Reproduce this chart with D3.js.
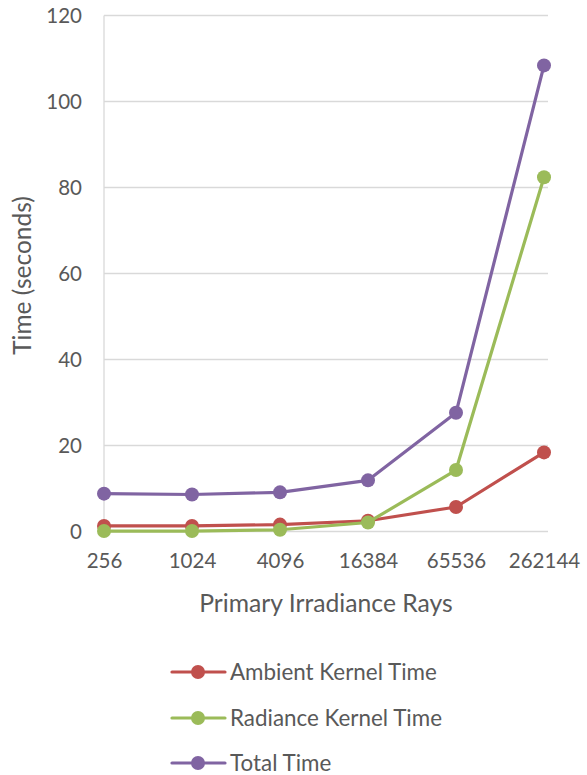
<!DOCTYPE html>
<html>
<head>
<meta charset="utf-8">
<script src="https://cdn.jsdelivr.net/npm/d3@7"></script>
<style>
  html, body { margin: 0; padding: 0; background: #fff; }
  svg { display: block; font-family: Lato, "Open Sans", sans-serif; }
</style>
</head>
<body>
<svg id="chart" width="587" height="775"></svg>
<script>
// Rays per frame (categories) and timings in seconds
const rays = ["256", "1024", "4096", "16384", "65536", "262144"];
const ambientKernel = [1.3, 1.3, 1.6, 2.5, 5.7, 18.4];
const radianceKernel = [0.1, 0.1, 0.4, 2.1, 14.3, 82.4];
const totalTime = [8.8, 8.6, 9.1, 11.9, 27.6, 108.4];
const yTicks = [0, 20, 40, 60, 80, 100, 120];

const series = [
  { name: "Ambient Kernel Time", values: ambientKernel, color: "#C0504D" },
  { name: "Radiance Kernel Time", values: radianceKernel, color: "#9BBB59" },
  { name: "Total Time", values: totalTime, color: "#8064A2" }
];

const svg = d3.select("#chart");
const textColor = "#595959";
const gridColor = "#D9D9D9";

const plot = { left: 104, right: 544, top: 15.5, bottom: 531.5 };

const x = d3.scalePoint().domain(rays).range([plot.left, plot.right]);
const y = d3.scaleLinear().domain([0, 120]).range([plot.bottom, plot.top]);

// Horizontal gridlines
svg.append("g")
  .selectAll("line")
  .data(yTicks)
  .join("line")
  .attr("x1", plot.left)
  .attr("x2", plot.right + 4)
  .attr("y1", d => y(d))
  .attr("y2", d => y(d))
  .attr("stroke", gridColor)
  .attr("stroke-width", 1.3);

// Vertical axis line
svg.append("line")
  .attr("x1", plot.left).attr("x2", plot.left)
  .attr("y1", plot.top).attr("y2", plot.bottom)
  .attr("stroke", gridColor).attr("stroke-width", 1.3);

// Y axis
const yAxis = svg.append("g")
  .attr("transform", `translate(${plot.left - 22},0)`)
  .call(d3.axisLeft(y).tickValues(yTicks).tickSize(0).tickPadding(0));
yAxis.select(".domain").remove();
yAxis.selectAll("text")
  .attr("fill", textColor)
  .style("font-size", "20.5px")
  .style("font-family", "Lato, sans-serif");

// X axis
const xAxis = svg.append("g")
  .attr("transform", `translate(0,${plot.bottom + 22})`)
  .call(d3.axisBottom(x).tickSize(0).tickPadding(0));
xAxis.select(".domain").remove();
xAxis.selectAll("text")
  .attr("fill", textColor)
  .attr("dy", "0.72em")
  .style("font-size", "20.5px")
  .style("font-family", "Lato, sans-serif");

// Axis titles
svg.append("text")
  .attr("x", 326)
  .attr("y", 612)
  .attr("text-anchor", "middle")
  .attr("fill", textColor)
  .style("font-size", "24.7px")
  .text("Primary Irradiance Rays");

svg.append("text")
  .attr("transform", `translate(31,${(plot.top + plot.bottom) / 2 + 2}) rotate(-90)`)
  .attr("text-anchor", "middle")
  .attr("fill", textColor)
  .style("font-size", "24.5px")
  .text("Time (seconds)");

// Series lines and markers
const line = d3.line()
  .x((d, i) => x(rays[i]))
  .y(d => y(d));

const g = svg.append("g");
series.forEach(s => {
  g.append("path")
    .datum(s.values)
    .attr("d", line)
    .attr("fill", "none")
    .attr("stroke", s.color)
    .attr("stroke-width", 3.2)
    .attr("stroke-linejoin", "round")
    .attr("stroke-linecap", "round");
  g.selectAll(null)
    .data(s.values)
    .join("circle")
    .attr("cx", (d, i) => x(rays[i]))
    .attr("cy", d => y(d))
    .attr("r", 7)
    .attr("fill", s.color);
});

// Legend
const legend = svg.append("g");
const rowY = [672, 718, 763];
series.forEach((s, i) => {
  const row = legend.append("g").attr("transform", `translate(0,${rowY[i]})`);
  row.append("line")
    .attr("x1", 172).attr("x2", 225)
    .attr("y1", 0).attr("y2", 0)
    .attr("stroke", s.color).attr("stroke-width", 3.2)
    .attr("stroke-linecap", "round");
  row.append("circle")
    .attr("cx", 198).attr("cy", 0).attr("r", 7)
    .attr("fill", s.color);
  row.append("text")
    .attr("x", 230).attr("y", 0)
    .attr("dy", "0.36em")
    .attr("fill", textColor)
    .style("font-size", "22.4px")
    .text(s.name);
});
</script>
</body>
</html>
